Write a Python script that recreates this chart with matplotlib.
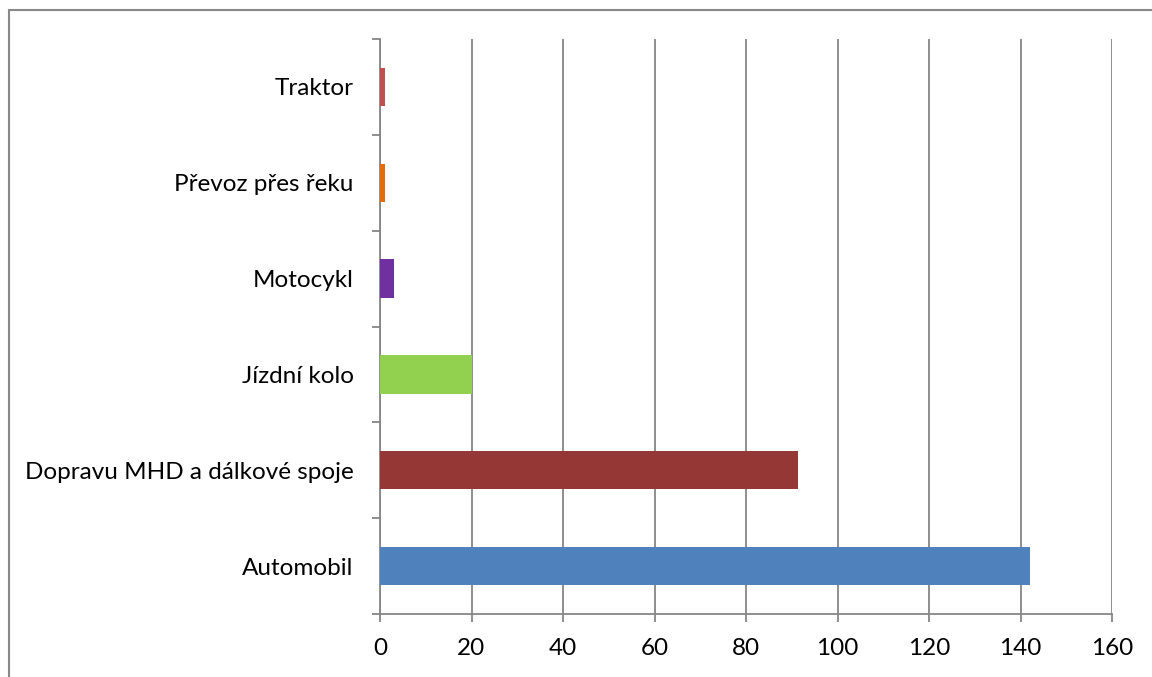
import matplotlib
matplotlib.use("Agg")
import matplotlib.pyplot as plt
from matplotlib.patches import Rectangle

categories = ["Automobil", "Dopravu MHD a dálkové spoje", "Jízdní kolo",
              "Motocykl", "Převoz přes řeku", "Traktor"]
values = [142, 91.4, 20, 3, 1, 1]
colors = ["#4F81BD", "#953735", "#92D050", "#7030A0", "#E46C0A", "#C0504D"]
x_ticks = [0, 20, 40, 60, 80, 100, 120, 140, 160]

plt.rcParams["font.family"] = ["Lato", "DejaVu Sans"]

W, H = 1152, 677
fig = plt.figure(figsize=(W / 100, H / 100), dpi=100)
fig.patch.set_facecolor("white")

# outer chart frame
fig.add_artist(Rectangle((9 / W, -0.05), 1.2, 1 - 10 / H + 0.05,
                         transform=fig.transFigure, fill=False,
                         edgecolor="#888888", linewidth=1.5))

left, right, top, bottom = 380, 1112, 39, 614
ax = fig.add_axes([left / W, 1 - bottom / H, (right - left) / W, (bottom - top) / H])

y = range(len(categories))
ax.barh(y, values, height=0.4, color=colors, zorder=3)

ax.set_xlim(0, 160)
ax.set_ylim(-0.5, len(categories) - 0.5)
ax.set_xticks(x_ticks)
ax.set_xticklabels([str(t) for t in x_ticks], fontsize=17.5)
ax.set_yticks(list(y))
ax.set_yticklabels(categories, fontsize=17.5)
ax.set_yticks([i - 0.5 for i in range(len(categories) + 1)], minor=True)

ax.grid(axis="x", color="#868686", linewidth=1.3, zorder=0)
for s in ["top", "right"]:
    ax.spines[s].set_visible(False)
for s in ["left", "bottom"]:
    ax.spines[s].set_color("#868686")
    ax.spines[s].set_linewidth(1.3)

ax.tick_params(axis="x", length=6, width=1.3, color="#868686", pad=11)
ax.tick_params(axis="y", which="major", length=0, pad=19)
ax.tick_params(axis="y", which="minor", length=6, width=1.3, color="#868686")

fig.savefig("out.png", dpi=100)
